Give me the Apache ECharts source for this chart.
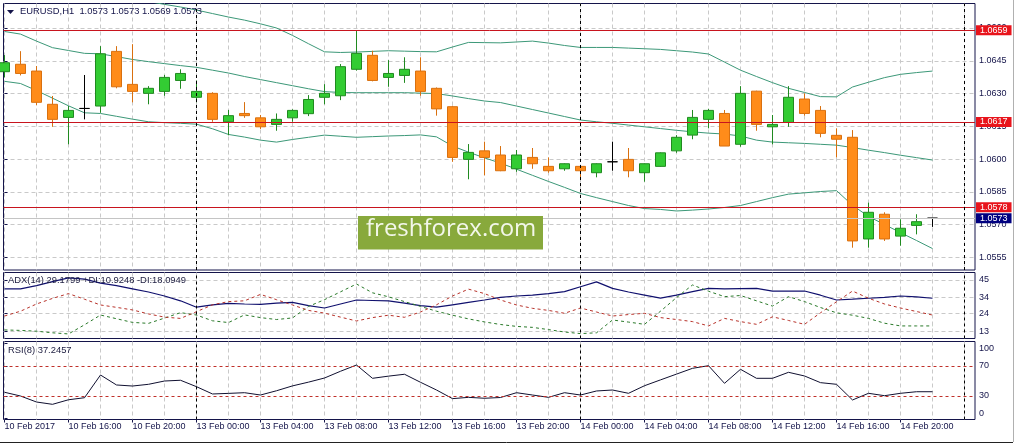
<!DOCTYPE html>
<html><head><meta charset="utf-8">
<script src="https://cdn.jsdelivr.net/npm/echarts@6/dist/echarts.min.js"></script>
<style>html,body{margin:0;padding:0;background:#fff}#c{width:1017px;height:445px}</style>
</head><body><div id="c"></div>
<script>
// ---------- data ----------
const timeLabels = ['10 Feb 2017','10 Feb 16:00','10 Feb 20:00','13 Feb 00:00','13 Feb 04:00','13 Feb 08:00','13 Feb 12:00','13 Feb 16:00','13 Feb 20:00','14 Feb 00:00','14 Feb 04:00','14 Feb 08:00','14 Feb 12:00','14 Feb 16:00','14 Feb 20:00'];
const labelBars = [0,4,8,12,16,20,24,28,32,36,40,44,48,52,56];
const gridBars = [0,2,4,6,8,10,12,14,16,18,20,22,24,26,28,30,32,34,36,38,40,42,44,46,48,50,52,54,56,58,60];
const daySeparators = [12,36,60];

const opens  = [1.06400,1.06434,1.06403,1.06251,1.06191,1.06232,1.06243,1.06493,1.06342,1.06301,1.06310,1.06360,1.06283,1.06301,1.06171,1.06209,1.06189,1.06159,1.06189,1.06208,1.06283,1.06290,1.06411,1.06475,1.06374,1.06383,1.06403,1.06324,1.06240,1.05999,1.06038,1.06019,1.05956,1.06008,1.05967,1.05956,1.05967,1.05938,1.05988,1.05999,1.05938,1.05967,1.06038,1.06110,1.06182,1.06209,1.06068,1.06311,1.06148,1.06168,1.06275,1.06223,1.06109,1.06100,1.05635,1.05748,1.05648,1.05697,1.0573];
const highs  = [1.06476,1.06494,1.06426,1.06289,1.06243,1.06385,1.06517,1.06517,1.06526,1.06334,1.06385,1.06411,1.06360,1.06306,1.06225,1.06261,1.06202,1.06209,1.06228,1.06293,1.06343,1.06435,1.06586,1.06496,1.06453,1.06466,1.06466,1.06328,1.06244,1.06069,1.06080,1.06060,1.06042,1.06051,1.06008,1.05981,1.05970,1.05981,1.06080,1.06051,1.05981,1.06031,1.06110,1.06225,1.06230,1.06225,1.06334,1.06313,1.06202,1.06334,1.06301,1.06243,1.06141,1.06133,1.05801,1.05757,1.05725,1.05748,1.0573];
const lows   = [1.06374,1.06383,1.06247,1.06148,1.06068,1.06182,1.06212,1.06324,1.06260,1.06251,1.06290,1.06322,1.06260,1.06171,1.06109,1.06189,1.06138,1.06130,1.06171,1.06197,1.06251,1.06270,1.06405,1.06356,1.06331,1.06349,1.06290,1.06199,1.05988,1.05908,1.05926,1.05945,1.05942,1.05956,1.05938,1.05947,1.05917,1.05917,1.05947,1.05917,1.05897,1.05965,1.06029,1.06091,1.06141,1.06060,1.06057,1.06130,1.06068,1.06148,1.06199,1.06100,1.06008,1.05595,1.05595,1.05626,1.05604,1.05656,1.0569];
const closes = [1.06441,1.06392,1.06260,1.06182,1.06223,1.06232,1.06482,1.06331,1.06310,1.06324,1.06374,1.06392,1.06310,1.06182,1.06199,1.06199,1.06148,1.06182,1.06223,1.06273,1.06301,1.06423,1.06484,1.06360,1.06392,1.06411,1.06310,1.06230,1.06008,1.06031,1.06008,1.05947,1.06019,1.05979,1.05947,1.05979,1.05947,1.05979,1.05988,1.05947,1.05979,1.06029,1.06100,1.06191,1.06223,1.06060,1.06301,1.06159,1.06159,1.06283,1.06209,1.06118,1.06091,1.05626,1.05757,1.05635,1.05684,1.05714,1.0573];

const bbUpper  = [1.06812,1.06798,1.06766,1.06752,1.06755,1.06756,1.06755,1.06742,1.06729,1.06721,1.06708,1.06696,1.06682,1.06666,1.06650,1.06636,1.06619,1.06600,1.06566,1.06528,1.06491,1.06488,1.06490,1.06493,1.06496,1.06494,1.06492,1.06491,1.06513,1.06534,1.06533,1.06532,1.06536,1.06540,1.06531,1.06520,1.06511,1.06511,1.06511,1.06508,1.06505,1.06502,1.06496,1.06490,1.06481,1.06444,1.06407,1.06378,1.06350,1.06324,1.06305,1.06286,1.06285,1.06330,1.06352,1.06373,1.06388,1.06396,1.06403];
const bbMiddle = [1.06584,1.06572,1.06540,1.06510,1.06497,1.06484,1.06482,1.06469,1.06456,1.06446,1.06437,1.06428,1.06420,1.06407,1.06394,1.06378,1.06364,1.06350,1.06336,1.06322,1.06309,1.06305,1.06304,1.06304,1.06304,1.06304,1.06302,1.06300,1.06289,1.06277,1.06266,1.06259,1.06243,1.06227,1.06211,1.06195,1.06179,1.06171,1.06164,1.06156,1.06148,1.06140,1.06132,1.06125,1.06119,1.06115,1.06106,1.06087,1.06078,1.06075,1.06072,1.06068,1.06064,1.06053,1.06041,1.06030,1.06018,1.06007,1.05996];
const bbLower  = [1.06356,1.06346,1.06314,1.06279,1.06244,1.06212,1.06209,1.06196,1.06183,1.06171,1.06167,1.06164,1.06160,1.06139,1.06113,1.06101,1.06087,1.06078,1.06090,1.06100,1.06110,1.06105,1.06100,1.06103,1.06106,1.06108,1.06111,1.06102,1.06060,1.06032,1.06006,1.05982,1.05954,1.05926,1.05898,1.05871,1.05843,1.05824,1.05806,1.05788,1.05774,1.05770,1.05763,1.05767,1.05772,1.05779,1.05788,1.05806,1.05824,1.05840,1.05846,1.05852,1.05856,1.05789,1.05738,1.05701,1.05664,1.05628,1.05591];

const adx     = [39.4,39.5,41.5,44,46.3,45.5,43,41.5,39.5,37.5,35,32,28,29.5,30.4,30,29.8,30.5,31,29,27.5,30,32.5,32.2,31.9,30.5,29,28,29.5,31,32.5,34.2,35,35.6,36.5,37.7,40.8,43.8,39.8,37.5,35.6,33.7,35.5,37.7,39.8,39.4,39.6,39.8,38.1,38.1,38.1,35.5,32.5,33,33.6,34.2,35,34.5,33.6];
const plusDI  = [13.8,13.5,13,12,11.3,17,23.1,20.8,18.5,17.9,21.2,24.6,23.1,19.5,18.4,23.2,21.5,20.3,21.3,28.5,32.7,37.6,42.5,37,34.5,31.5,28.5,25.5,23,20.7,18.8,17.2,16,15.4,14,12.5,11.5,12,20,18.7,17.3,25.5,34,41.9,38,34.6,35.3,32,28.7,34.6,31.5,27.8,24.5,23,21,18,16.3,16.3,16.3];
const minusDI = [22.5,25.5,30,33.5,36.5,33,29.4,27.9,26.3,23.8,21.8,21,25.2,29.5,31.5,32,36,32.7,29.4,26,24.3,21.8,19.4,21.5,23,21.7,25,29.5,35,39.3,36.5,32.5,29.4,27.3,26,24.2,27.5,25,22.5,23.4,24.2,21.5,20.3,19,16.3,21,19,17.3,22,19.7,17.3,24.5,31.4,38.1,33.6,30,27.5,25.3,23.1];
const rsi     = [35,30,22,18.9,25,27.7,58,44.7,43.3,45.6,50,51,42.4,32.7,33.5,34.4,31.3,37,43.5,48.5,54,63,71.3,53.6,56.5,59,48.3,38,26.5,28.2,27,28,34.4,31.3,28.2,34.4,31.3,36.7,38,33.6,43.7,51.5,59.2,66.9,70.4,46.9,65.6,53.6,53.6,61.6,56.7,47.8,45.6,24.7,33.6,30.4,33.6,35.7,35.7];

const priceTicks = [1.0555,1.0570,1.0585,1.0600,1.0615,1.0630,1.0645,1.0660];
const adxTicks = [13,24,34,45];
const rsiTicks = [0,30,70,100];
const rsiLevels = [70,30];
const priceLevels = [1.0659,1.0617,1.0578];
const bidPrice = 1.0573;

const titleText = 'EURUSD,H1  1.0573 1.0573 1.0569 1.0573';
const adxTitle = 'ADX(14) 29.1799 +DI:10.9248 -DI:18.0949';
const rsiTitle = 'RSI(8) 37.2457';
const watermark = 'freshforex.com';

// ---------- chart ----------
const FONT = 'Liberation Sans';
const NAVY = '#14144a';
const GRIDC = '#c9c9c9';
const xMin = -0.0625, xMax = 60.65625;

const chart = echarts.init(document.getElementById('c'), null, {renderer:'canvas'});
const idx = a => a.map((v,i)=>[i,v]);
const candles = opens.map((o,i)=>[i,o,closes[i],lows[i],highs[i]]);

function xAxisGrid(g){
  return {gridIndex:g,type:'value',min:xMin,max:xMax,position:'top',
    axisLine:{show:false},axisLabel:{show:false},
    axisTick:{show:false,customValues:gridBars},
    splitLine:{show:true,lineStyle:{color:GRIDC,type:[4,3],width:1}}};
}
const sepLine = {symbol:'none',silent:true,animation:false,precision:6,label:{show:false},
  lineStyle:{color:'#000',type:[3,3],width:1},
  data: daySeparators.map(v=>({xAxis:v}))};

function yAxisCommon(g,min,max,ticks,fmt,extra){
  return Object.assign({gridIndex:g,type:'value',position:'right',min:min,max:max,
    axisLine:{show:false},
    axisTick:{show:true,length:3,customValues:ticks,lineStyle:{color:NAVY}},
    axisLabel:{customValues:ticks,formatter:fmt,margin:4,color:NAVY,fontSize:9,fontFamily:FONT},
    splitLine:{show:true,lineStyle:{color:GRIDC,type:[4,3],width:1}}},extra||{});
}

const levelLabel = (bg)=>({show:true,position:'end',distance:1,formatter:p=>Number(p.value).toFixed(4),
  color:'#fff',backgroundColor:bg,padding:[1,4,0,4],fontSize:9,lineHeight:9,fontFamily:FONT});

const option = {
  animation:false,
  backgroundColor:'#fff',
  grid:[
    {left:3.5,top:3.5,width:971.5,height:266.5,show:true,borderColor:NAVY,borderWidth:1},
    {left:3.5,top:272.5,width:971.5,height:66,show:true,borderColor:NAVY,borderWidth:1},
    {left:3.5,top:341.5,width:971.5,height:78,show:true,borderColor:NAVY,borderWidth:1}
  ],
  xAxis:[
    xAxisGrid(0), xAxisGrid(1), xAxisGrid(2),
    {gridIndex:2,type:'value',min:xMin,max:xMax,position:'bottom',
      axisLine:{show:false},splitLine:{show:false},
      axisTick:{show:true,length:3,customValues:labelBars,lineStyle:{color:NAVY}},
      axisLabel:{customValues:labelBars,formatter:v=>timeLabels[Math.round(v/4)],align:'left',margin:3,
        color:NAVY,fontSize:9,fontFamily:FONT}}
  ],
  yAxis:[
    yAxisCommon(0,1.05493,1.06712,priceTicks,v=>Number(v).toFixed(4)),
    yAxisCommon(1,8.44,49.69,adxTicks,v=>String(v)),
    yAxisCommon(2,-1.33,102.67,rsiTicks,v=>v===100?'{t|100}':(v===0?'{b|0}':String(v)),
      {splitLine:{show:false}})
  ],
  series:[
    {type:'candlestick',xAxisIndex:0,yAxisIndex:0,data:candles,barWidth:10,z:3,
      itemStyle:{color:'#33cc33',color0:'#ff8c1a',borderColor:'#208a20',borderColor0:'#d9700f',
        borderColorDoji:'#000',borderWidth:1}
    },
    {type:'line',xAxisIndex:0,yAxisIndex:0,data:idx(bbUpper),showSymbol:false,lineStyle:{color:'#3c9878',width:1},
      markLine:{symbol:'none',silent:true,animation:false,precision:6,
        data: priceLevels.map(v=>({yAxis:v,lineStyle:{color:'#c8141e',type:'solid',width:1},label:levelLabel('#e8141c')}))
          .concat([{yAxis:bidPrice,lineStyle:{color:'#c4c4c4',type:'solid',width:1},label:levelLabel('#000080')}])}},
    {type:'line',xAxisIndex:0,yAxisIndex:0,data:idx(bbMiddle),showSymbol:false,lineStyle:{color:'#3c9878',width:1},markLine:sepLine},
    {type:'line',xAxisIndex:0,yAxisIndex:0,data:idx(bbLower),showSymbol:false,lineStyle:{color:'#3c9878',width:1}},
    {type:'line',xAxisIndex:1,yAxisIndex:1,data:idx(adx),showSymbol:false,lineStyle:{color:'#10106e',width:1.2},markLine:sepLine},
    {type:'line',xAxisIndex:1,yAxisIndex:1,data:idx(plusDI),showSymbol:false,lineStyle:{color:'#2a7a2a',width:1,type:[3,3]}},
    {type:'line',xAxisIndex:1,yAxisIndex:1,data:idx(minusDI),showSymbol:false,lineStyle:{color:'#b8322a',width:1,type:[3,3]}},
    {type:'line',xAxisIndex:3,yAxisIndex:2,data:idx(rsi),showSymbol:false,lineStyle:{color:'#101030',width:1},
      markLine:{symbol:'none',silent:true,animation:false,precision:6,label:{show:false},
        data: rsiLevels.map(v=>({yAxis:v,lineStyle:{color:'#c0302a',type:[3,3],width:1}}))
          .concat(daySeparators.map(v=>({xAxis:v,lineStyle:{color:'#000',type:[3,3],width:1}})))}}
  ],
  graphic:[
    {type:'polygon',shape:{points:[[7,10],[14,10],[10.5,14]]},style:{fill:NAVY},z:100},
    {type:'text',left:20,top:7,style:{text:titleText,fill:NAVY,font:'9.4px "Liberation Sans"'},z:100},
    {type:'text',left:8,top:276,style:{text:adxTitle,fill:'#222244',font:'9.4px "Liberation Sans"'},z:100},
    {type:'text',left:8,top:345.5,style:{text:rsiTitle,fill:'#222244',font:'9.4px "Liberation Sans"'},z:100},
    {type:'rect',shape:{x:358,y:216,width:185,height:33.5},style:{fill:'#88a93c'},z:50},
    {type:'text',left:366,top:217,style:{text:watermark,fill:'#f3f7ea',font:'24px "Open Sans"'},z:51},
    {type:'line',shape:{x1:0,y1:442.5,x2:1013,y2:442.5},style:{stroke:'#222',lineWidth:1},z:100},
    {type:'line',shape:{x1:1013.5,y1:0,x2:1013.5,y2:442},style:{stroke:'#b0b0b0',lineWidth:1},z:100}
  ]
};
option.yAxis[2].axisLabel.rich = {t:{padding:[10,0,0,0],fontSize:9,fontFamily:FONT,color:NAVY},b:{padding:[0,0,9,0],fontSize:9,fontFamily:FONT,color:NAVY}};
chart.setOption(option);
</script></body></html>
